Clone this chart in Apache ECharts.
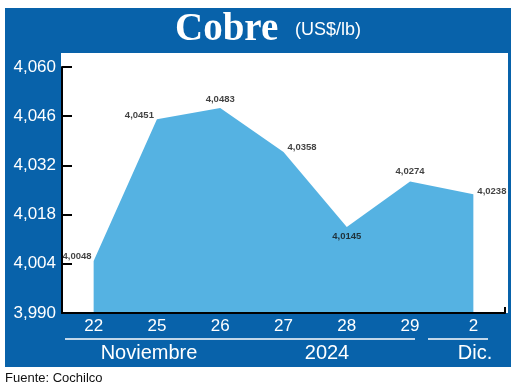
<!DOCTYPE html>
<html>
<head>
<meta charset="utf-8">
<script src="https://cdn.jsdelivr.net/npm/echarts@6/dist/echarts.min.js"></script>
<style>
html,body{margin:0;padding:0;background:#fff;}
#main{width:520px;height:387px;}
</style>
</head>
<body>
<div id="main"></div>
<script>
const categories = ['22', '25', '26', '27', '28', '29', '2'];
const prices = [4.0048, 4.0451, 4.0483, 4.0358, 4.0145, 4.0274, 4.0238];
const yMin = 3.990, yMax = 4.060, yStep = 0.014;
const monthLabels = ['Noviembre', '2024', 'Dic.'];
const titleText = 'Cobre';
const unitText = '(US$/lb)';
const sourceText = 'Fuente: Cochilco';

const BLUE = '#0862aa';
const AREA = '#55b2e2';
const labelCfg = [
  {position: 'left', distance: 1, offset: [0, -5]},
  {position: 'left', distance: 2, offset: [0, -4]},
  {position: 'top', distance: 3},
  {position: 'right', distance: 3, offset: [0, -5]},
  {position: 'bottom', distance: 3},
  {position: 'top', distance: 4},
  {position: 'right', distance: 3, offset: [0, -3]}
];
const comma = v => String(v).replace('.', ',');

const chart = echarts.init(document.getElementById('main'), null, {renderer: 'canvas'});
chart.setOption({
  backgroundColor: '#ffffff',
  animation: false,
  grid: {left: 62, right: 15, top: 67, bottom: 74, containLabel: false},
  xAxis: {
    type: 'category',
    data: categories,
    boundaryGap: true,
    axisLine: {show: true, lineStyle: {color: '#000', width: 2}},
    axisTick: {show: true, inside: true, length: 6, lineStyle: {color: '#000', width: 2},
      interval: function (i) { return i >= 6; }},
    axisLabel: {color: '#fff', fontSize: 17, fontFamily: 'Liberation Sans, sans-serif', margin: 5},
    splitLine: {show: false},
    z: 5
  },
  yAxis: {
    type: 'value',
    min: yMin, max: yMax, interval: yStep,
    axisLine: {show: true, lineStyle: {color: '#000', width: 2}},
    axisTick: {show: true, inside: true, length: 10, lineStyle: {color: '#000', width: 2}},
    axisLabel: {color: '#fff', fontSize: 17, fontFamily: 'Liberation Sans, sans-serif', margin: 6,
      formatter: v => v.toFixed(3).replace('.', ',')},
    splitLine: {show: false},
    z: 5
  },
  graphic: [
    {type: 'rect', z: -10, silent: true, shape: {x: 5, y: 8, width: 506, height: 359}, style: {fill: BLUE}},
    {type: 'rect', z: -9, silent: true, shape: {x: 61, y: 53, width: 447, height: 260}, style: {fill: '#fff'}},
    {type: 'text', z: 10, left: 175, top: 10, style: {text: titleText, fill: '#fff', font: 'bold 39px "Liberation Serif", serif'}},
    {type: 'text', z: 10, left: 295, top: 21, style: {text: unitText, fill: '#fff', font: '18px "Liberation Sans", sans-serif'}},
    {type: 'line', z: 10, shape: {x1: 65, y1: 339, x2: 415, y2: 339}, style: {stroke: '#fff', lineWidth: 1.5}},
    {type: 'line', z: 10, shape: {x1: 428, y1: 339, x2: 488, y2: 339}, style: {stroke: '#fff', lineWidth: 1.5}},
    {type: 'text', z: 10, x: 149, y: 353, style: {text: monthLabels[0], fill: '#fff', font: '20px "Liberation Sans", sans-serif', align: 'center', verticalAlign: 'middle'}},
    {type: 'text', z: 10, x: 327, y: 353, style: {text: monthLabels[1], fill: '#fff', font: '20px "Liberation Sans", sans-serif', align: 'center', verticalAlign: 'middle'}},
    {type: 'text', z: 10, x: 475, y: 353, style: {text: monthLabels[2], fill: '#fff', font: '20px "Liberation Sans", sans-serif', align: 'center', verticalAlign: 'middle'}},
    {type: 'text', z: 10, x: 5, y: 378, style: {text: sourceText, fill: '#111', font: '13px "Liberation Sans", sans-serif', verticalAlign: 'middle'}}
  ],
  series: [{
    type: 'line',
    data: prices,
    symbol: 'none',
    lineStyle: {width: 0, color: AREA},
    areaStyle: {color: AREA, opacity: 1, origin: 'start'},
    z: 2
  }, {
    type: 'scatter',
    data: prices.map((v, i) => ({value: v, label: labelCfg[i]})),
    symbol: 'circle',
    symbolSize: 2,
    itemStyle: {color: 'rgba(0,0,0,0)'},
    label: {show: true, color: '#111', fontSize: 9.5, fontWeight: 'bold',
      fontFamily: '"Liberation Sans", sans-serif',
      formatter: p => comma(p.value)},
    z: 6
  }]
});
</script>
</body>
</html>
